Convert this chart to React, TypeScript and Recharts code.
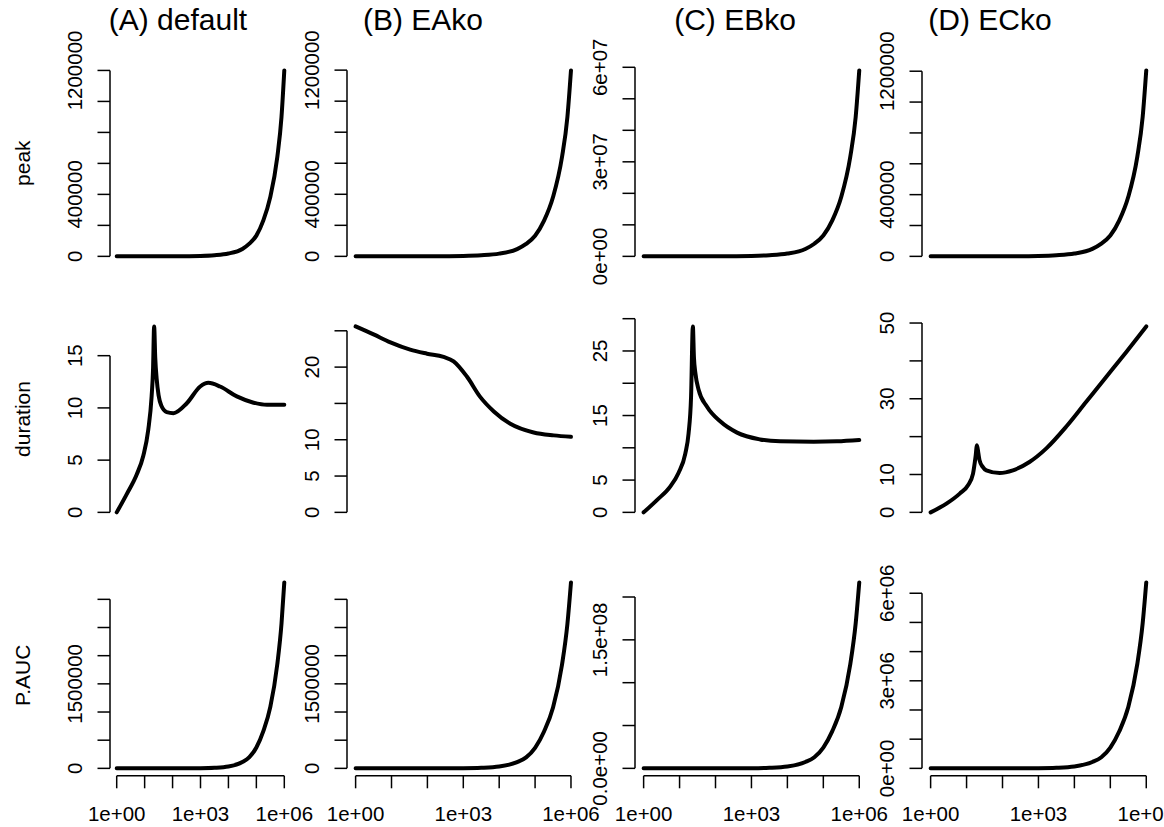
import React from "react";
import { LineChart, Line, XAxis, YAxis, ReferenceLine } from "recharts";

// dose grid shared by the "peak" and "P.AUC" rows
const doseGrid = [1, 10, 100, 1000, 3162, 10000, 31623, 56234, 100000, 177828, 316228, 562341, 794328, 1000000];

const peakA = [1, 120, 720, 3000, 7200, 18000, 48000, 82000, 134000, 232000, 384000, 642000, 900000, 1200000];
const peakB = [1, 110, 700, 2900, 7000, 17500, 47000, 80000, 133000, 230000, 382000, 640000, 897000, 1198000];
const peakC = [50, 6000, 35000, 150000, 350000, 880000, 2350000, 4000000, 6600000, 11400000, 18900000, 31600000, 44200000, 59000000];
const peakD = [1, 120, 730, 3050, 7300, 18200, 48500, 82500, 135000, 233000, 386000, 645000, 904000, 1205000];

const paucA = [0, 33, 330, 3300, 10500, 33000, 112000, 198000, 370000, 660000, 1090000, 1850000, 2570000, 3300000];
const paucB = [0, 33, 330, 3300, 10500, 33000, 110000, 196000, 365000, 655000, 1080000, 1840000, 2560000, 3300000];
const paucC = [0, 2200, 22000, 217000, 690000, 2170000, 7400000, 13000000, 24300000, 43400000, 71600000, 121500000, 169000000, 217000000];
const paucD = [0, 64, 640, 6400, 20000, 64000, 217000, 382000, 713000, 1270000, 2100000, 3570000, 4970000, 6370000];

// duration row: each panel has its own sampling (denser around the spike)
const durAx = [1, 2.29, 5.25, 8.91, 13.49, 17.78, 19.95, 21.88, 23.99, 26.92, 31.62, 39.81, 61.66, 107.2, 323.6, 977.2, 1905, 5012, 19953, 79433, 239883, 1000000];
const durAy = [0, 1.75, 3.65, 5.4, 7.9, 11.1, 13.6, 17.8, 14.8, 12.8, 11.2, 10.2, 9.6, 9.5, 10.45, 12.05, 12.4, 12.05, 11.1, 10.5, 10.3, 10.3];

const durBx = [1, 3.162, 9.33, 33.1, 97.7, 281.8, 537, 1259, 2951, 7079, 20417, 91201, 331131, 1000000];
const durBy = [25.6, 24.5, 23.4, 22.4, 21.85, 21.4, 20.8, 18.7, 15.9, 13.9, 12.2, 11.0, 10.6, 10.4];

const durCx = [1, 2.344, 5.495, 9.333, 14.45, 17.78, 20.89, 23.44, 25.12, 27.54, 33.88, 57.54, 134.9, 398.1, 1738, 6310, 53703, 239883, 1000000];
const durCy = [0, 1.9, 4.0, 6.1, 9.1, 12.2, 17.9, 28.8, 24.0, 21.6, 19.0, 16.4, 14.1, 12.35, 11.3, 11.0, 10.95, 11.0, 11.2];

const durDx = [1, 2.754, 6.457, 10.96, 15.14, 17.78, 19.5, 21.38, 22.91, 28.18, 35.48, 83.18, 195, 562.3, 1660, 5888, 21380, 77625, 275423, 1000000];
const durDy = [0, 2.3, 4.95, 7.15, 10.25, 14.65, 17.75, 15.5, 13.8, 12.0, 11.1, 10.4, 11.1, 13.3, 16.9, 22.6, 29.2, 35.8, 42.3, 49.1];

// axis ticks and the labels R actually printed (blank = dropped)
const peakTicks = [0, 200000, 400000, 600000, 800000, 1000000, 1200000];
const peakLabels = ["0", "", "400000", "", "", "", "1200000"];
const peakTicksC = [0, 10000000, 20000000, 30000000, 40000000, 50000000, 60000000];
const peakLabelsC = ["0e+00", "", "", "3e+07", "", "", "6e+07"];

const durTicksA = [0, 5, 10, 15];
const durLabelsA = ["0", "5", "10", "15"];
const durTicksB = [0, 5, 10, 15, 20, 25];
const durLabelsB = ["0", "5", "10", "", "20", ""];
const durTicksC = [0, 5, 10, 15, 20, 25, 30];
const durLabelsC = ["0", "5", "", "15", "", "25", ""];
const durTicksD = [0, 10, 20, 30, 40, 50];
const durLabelsD = ["0", "10", "", "30", "", "50"];

const paucTicks = [0, 500000, 1000000, 1500000, 2000000, 2500000, 3000000];
const paucLabels = ["0", "", "", "1500000", "", "", ""];
const paucTicksC = [0, 50000000, 100000000, 150000000, 200000000];
const paucLabelsC = ["0.0e+00", "", "", "1.5e+08", ""];
const paucTicksD = [0, 1000000, 2000000, 3000000, 4000000, 5000000, 6000000];
const paucLabelsD = ["0e+00", "", "", "3e+06", "", "", "6e+06"];

const doseTicks = [1, 10, 100, 1000, 10000, 100000, 1000000];
const doseLabels = ["1e+00", "", "", "1e+03", "", "", "1e+06"];

const titles = ["(A) default", "(B) EAko", "(C) EBko", "(D) ECko"];
const rowNames = ["peak", "duration", "P.AUC"];

const FONT = "'Liberation Sans', Arial, Helvetica, sans-serif";
const colLeft = [109.8, 346.7, 634.7, 922.4];
const colWidth = [181, 232.6, 232.9, 232.9];
const rowTop = [62.8, 318.6, 574.9];
const plotH = 200.8;
const titleX = [178, 423, 735, 990];
const PAD_L = 90;
const PAD_T = 45;
const PAD_R = 45;
const PAD_B = 45;
const X_LO = Math.pow(10, -0.24);
const X_HI = Math.pow(10, 6.24);

const zip = (xs: number[], ys: number[]) => xs.map((x, i) => ({ x, y: ys[i] }));

const panels = [
  [
    { data: zip(doseGrid, peakA), ticks: peakTicks, labels: peakLabels },
    { data: zip(doseGrid, peakB), ticks: peakTicks, labels: peakLabels },
    { data: zip(doseGrid, peakC), ticks: peakTicksC, labels: peakLabelsC },
    { data: zip(doseGrid, peakD), ticks: peakTicks, labels: peakLabels },
  ],
  [
    { data: zip(durAx, durAy), ticks: durTicksA, labels: durLabelsA },
    { data: zip(durBx, durBy), ticks: durTicksB, labels: durLabelsB },
    { data: zip(durCx, durCy), ticks: durTicksC, labels: durLabelsC },
    { data: zip(durDx, durDy), ticks: durTicksD, labels: durLabelsD },
  ],
  [
    { data: zip(doseGrid, paucA), ticks: paucTicks, labels: paucLabels },
    { data: zip(doseGrid, paucB), ticks: paucTicks, labels: paucLabels },
    { data: zip(doseGrid, paucC), ticks: paucTicksC, labels: paucLabelsC },
    { data: zip(doseGrid, paucD), ticks: paucTicksD, labels: paucLabelsD },
  ],
];

function YTick(props: any) {
  const { x, y, payload, ticks, labels } = props;
  const label = labels[ticks.indexOf(payload.value)];
  if (!label) return <g />;
  return (
    <text x={x} y={y} transform={`rotate(-90 ${x} ${y})`} textAnchor="middle" fontSize={20.5} fontFamily={FONT} fill="#000">
      {label}
    </text>
  );
}

function XTick(props: any) {
  const { x, y, payload } = props;
  const label = doseLabels[doseTicks.indexOf(payload.value)];
  if (!label) return <g />;
  return (
    <text x={x} y={y} textAnchor="middle" fontSize={20.5} fontFamily={FONT} fill="#000">
      {label}
    </text>
  );
}

function Panel({ row, col }: { row: number; col: number }) {
  const p = panels[row][col];
  const showX = row === 2;
  const yMax = Math.max(...p.data.map((d) => d.y));
  const yLo = -0.04 * yMax;
  const yHi = 1.04 * yMax;
  const width = colWidth[col] + PAD_L + PAD_R;
  const height = plotH + PAD_T + (showX ? 60 : PAD_B);

  return (
    <div style={{ position: "absolute", left: colLeft[col] - PAD_L, top: rowTop[row] - PAD_T, width, height }}>
      <LineChart
        width={width}
        height={height}
        data={p.data}
        margin={{ top: PAD_T, right: PAD_R, left: 0, bottom: showX ? 0 : PAD_B }}
      >
        <XAxis
          dataKey="x"
          type="number"
          scale="log"
          domain={[X_LO, X_HI]}
          allowDataOverflow
          ticks={doseTicks}
          interval={0}
          hide={!showX}
          height={60}
          axisLine={false}
          tickSize={12.5}
          tickMargin={33}
          tickLine={{ stroke: "#000", strokeWidth: 1.5 }}
          tick={(t: any) => <XTick {...t} />}
        />
        <YAxis
          type="number"
          width={PAD_L}
          domain={[yLo, yHi]}
          allowDataOverflow
          ticks={p.ticks}
          interval={0}
          axisLine={false}
          tickSize={12.5}
          tickMargin={15}
          tickLine={{ stroke: "#000", strokeWidth: 1.5 }}
          tick={(t: any) => <YTick {...t} ticks={p.ticks} labels={p.labels} />}
        />
        <ReferenceLine
          segment={[{ x: X_LO, y: p.ticks[0] }, { x: X_LO, y: p.ticks[p.ticks.length - 1] }]}
          stroke="#000"
          strokeWidth={1.5}
          ifOverflow="visible"
        />
        {showX && (
          <ReferenceLine
            segment={[{ x: doseTicks[0], y: yLo }, { x: doseTicks[doseTicks.length - 1], y: yLo }]}
            stroke="#000"
            strokeWidth={1.5}
            ifOverflow="visible"
          />
        )}
        <Line
          dataKey="y"
          type="monotone"
          stroke="#000"
          strokeWidth={4}
          strokeLinecap="round"
          strokeLinejoin="round"
          dot={false}
          activeDot={false}
          isAnimationActive={false}
        />
      </LineChart>
    </div>
  );
}

export default function App() {
  return (
    <div style={{ position: "absolute", left: 0, top: 0, width: 1164, height: 827, overflow: "hidden", background: "#fff" }}>
      {panels.map((r, ri) => r.map((_, ci) => <Panel key={`${ri}-${ci}`} row={ri} col={ci} />))}
      <svg width={1164} height={827} style={{ position: "absolute", left: 0, top: 0, pointerEvents: "none" }}>
        {titles.map((t, i) => (
          <text key={t} x={titleX[i]} y={30} textAnchor="middle" fontSize={30} fontFamily={FONT} fill="#000">
            {t}
          </text>
        ))}
        {rowNames.map((n, i) => {
          const cy = rowTop[i] + plotH / 2;
          return (
            <text key={n} x={30} y={cy} transform={`rotate(-90 30 ${cy})`} textAnchor="middle" fontSize={21} fontFamily={FONT} fill="#000">
              {n}
            </text>
          );
        })}
      </svg>
    </div>
  );
}
